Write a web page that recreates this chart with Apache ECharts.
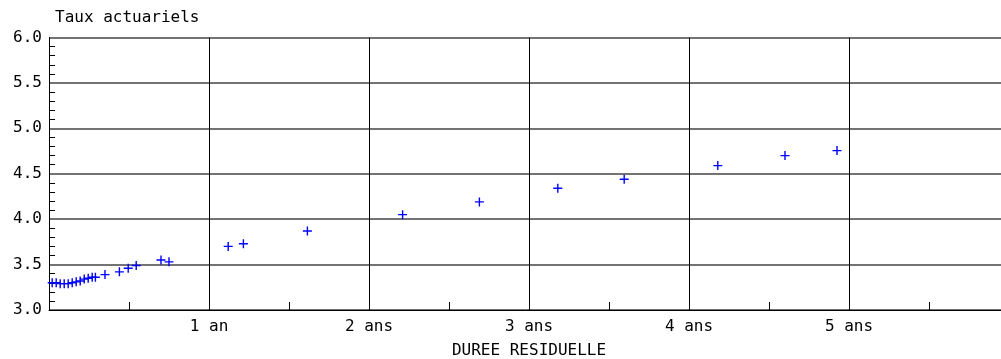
<!DOCTYPE html>
<html>
<head>
<meta charset="utf-8">
<script src="https://cdn.jsdelivr.net/npm/echarts@6/dist/echarts.min.js"></script>
<style>
  html, body { margin: 0; padding: 0; background: #fff; }
  #chart { width: 1001px; height: 359px; }
</style>
</head>
<body>
<div id="chart"></div>
<script>
// Durée résiduelle (années) et taux actuariel (%) de chaque ligne
const durees = [
  0.02, 0.045, 0.07, 0.095, 0.12, 0.145, 0.17, 0.195, 0.22, 0.245, 0.27, 0.29, 0.35,
  0.44, 0.495, 0.545, 0.70, 0.75,
  1.12, 1.215, 1.615, 2.21, 2.69, 3.18, 3.595, 4.18, 4.60, 4.925
];
const taux = [
  3.30, 3.30, 3.29, 3.29, 3.29, 3.30, 3.31, 3.32, 3.34, 3.35, 3.36, 3.36, 3.39,
  3.42, 3.46, 3.49, 3.55, 3.53,
  3.70, 3.73, 3.87, 4.05, 4.19, 4.34, 4.44, 4.59, 4.70, 4.755
];
const anneesLabels = ['', '1 an', '2 ans', '3 ans', '4 ans', '5 ans'];
const titreY = 'Taux actuariels';
const titreX = 'DUREE RESIDUELLE';

const points = durees.map((d, i) => [d, taux[i]]);
const FONT = '"DejaVu Sans Mono", monospace';
const plus = 'path://M3.8,0H5.2V3.8H9V5.2H5.2V9H3.8V5.2H0V3.8H3.8Z';

const chart = echarts.init(document.getElementById('chart'), null, { renderer: 'canvas' });
chart.setOption({
  backgroundColor: '#ffffff',
  animation: false,
  title: {
    text: titreY,
    left: 50, top: 5,
    textStyle: { fontFamily: FONT, fontSize: 16, fontWeight: 'normal', color: '#000' }
  },
  // the time axis runs to 6 years; its last half-year falls past the right edge
  grid: { left: 49, width: 960, top: 37.5, height: 272.5, containLabel: false, outerBoundsMode: 'none' },
  xAxis: {
    type: 'value',
    min: 0, max: 6, interval: 1,
    name: titreX,
    nameLocation: 'middle',
    nameGap: 33,
    nameTextStyle: { fontFamily: FONT, fontSize: 16, color: '#000' },
    axisLine: { show: true, lineStyle: { color: '#000', width: 1 } },
    axisTick: { show: false, inside: true },
    minorTick: { show: true, splitNumber: 2, length: 8, lineStyle: { color: '#000', width: 1 } },
    splitLine: { show: true, lineStyle: { color: '#000', width: 1 } },
    axisLabel: {
      margin: 9,
      fontFamily: FONT, fontSize: 16, color: '#000',
      formatter: v => anneesLabels[Math.round(v)] || ''
    }
  },
  yAxis: {
    type: 'value',
    min: 3, max: 6, interval: 0.5,
    axisLine: { show: true, lineStyle: { color: '#000', width: 1 } },
    axisTick: { show: false, inside: true },
    minorTick: { show: true, splitNumber: 5, length: 6, lineStyle: { color: '#000', width: 1 } },
    splitLine: { show: true, lineStyle: { color: '#444', width: 1.5 } },
    axisLabel: {
      margin: 7,
      fontFamily: FONT, fontSize: 16, color: '#000',
      formatter: v => v.toFixed(1)
    }
  },
  series: [{
    type: 'scatter',
    data: points,
    symbol: plus,
    symbolSize: 9,
    itemStyle: { color: '#0000ff', opacity: 1 },
    z: 5
  }]
});
</script>
</body>
</html>
